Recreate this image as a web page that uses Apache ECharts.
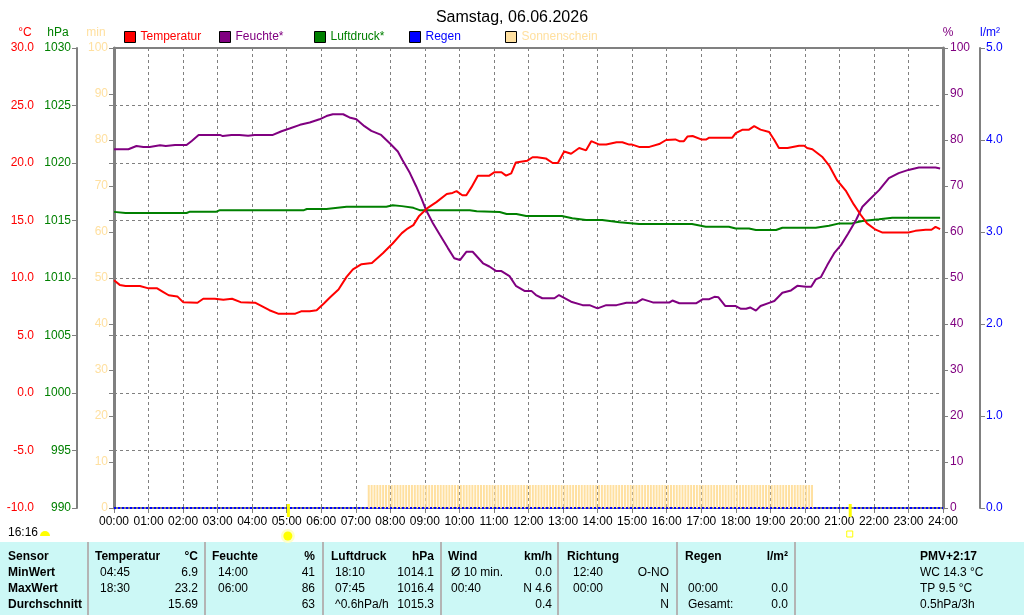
<!DOCTYPE html>
<html>
<head>
<meta charset="utf-8">
<title>Samstag, 06.06.2026</title>
<script src="https://cdn.jsdelivr.net/npm/echarts@6/dist/echarts.min.js"></script>
<style>
  html, body { margin: 0; padding: 0; background: #fff; }
  #chart { width: 1024px; height: 615px; }
</style>
</head>
<body>
<div id="chart"></div>
<script>
const chartTitle = 'Samstag, 06.06.2026';

// Temperatur (°C)
const tempTimes = ['00:00', '00:10', '00:20', '00:45', '01:00', '01:15', '01:25', '01:35', '01:50', '02:00',
  '02:25', '02:35', '02:55', '03:10', '03:25', '03:40', '04:05', '04:15', '04:30', '04:45',
  '05:15', '05:25', '05:40', '05:52', '06:05', '06:15', '06:30', '06:44', '06:55', '07:10',
  '07:28', '07:47', '08:04', '08:20', '08:30', '08:40', '08:50', '09:05', '09:20', '09:38',
  '09:48', '09:55', '10:05', '10:12', '10:21', '10:32', '10:52', '11:01', '11:13', '11:21',
  '11:30', '11:38', '11:58', '12:07', '12:15', '12:30', '12:42', '12:51', '13:02', '13:14',
  '13:28', '13:40', '13:49', '14:03', '14:15', '14:33', '14:43', '14:55', '15:00', '15:12',
  '15:30', '15:47', '15:59', '16:15', '16:22', '16:30', '16:36', '16:45', '17:00', '17:09',
  '17:14', '17:54', '18:00', '18:12', '18:23', '18:32', '18:43', '18:58', '19:07', '19:15',
  '19:30', '19:50', '19:59', '20:04', '20:13', '20:30', '20:42', '20:56', '21:11', '21:25',
  '21:37', '21:48', '22:03', '22:15', '23:00', '23:12', '23:30', '23:40', '23:47', '23:55'];
const tempValues = [9.8, 9.4, 9.3, 9.3, 9.1, 9.1, 8.8, 8.5, 8.4, 7.9,
  7.85, 8.2, 8.2, 8.1, 8.2, 7.9, 7.85, 7.6, 7.2, 6.9,
  6.9, 7.1, 7.1, 7.2, 7.8, 8.3, 9.0, 10.1, 10.75, 11.2,
  11.3, 12.15, 13.0, 13.9, 14.3, 14.6, 15.4, 16.1, 16.6, 17.3,
  17.4, 17.55, 17.2, 17.2, 17.9, 18.9, 18.9, 19.2, 19.2, 18.9,
  19.1, 20.05, 20.2, 20.5, 20.5, 20.4, 20.0, 20.0, 21.0, 20.8,
  21.3, 21.1, 21.9, 21.6, 21.6, 21.8, 21.8, 21.6, 21.6, 21.4,
  21.4, 21.65, 22.0, 22.05, 21.9, 21.9, 22.3, 22.35, 22.05, 22.05,
  22.2, 22.2, 22.6, 22.9, 22.9, 23.2, 22.9, 22.7, 22.0, 21.3,
  21.3, 21.5, 21.5, 21.3, 21.2, 20.55, 19.8, 18.5, 17.6, 16.4,
  15.5, 14.75, 14.2, 13.95, 13.95, 14.1, 14.2, 14.2, 14.45, 14.25];

// Feuchte (%)
const humTimes = ['00:00', '00:25', '00:39', '00:51', '01:02', '01:20', '01:30', '01:46', '02:06', '02:15',
  '02:27', '03:04', '03:09', '03:24', '03:38', '03:53', '04:04', '04:36', '04:51', '05:05',
  '05:23', '05:40', '05:57', '06:09', '06:20', '06:38', '06:49', '07:01', '07:15', '07:27',
  '07:44', '07:59', '08:13', '08:21', '08:34', '08:45', '08:54', '09:02', '09:14', '09:26',
  '09:40', '09:51', '10:01', '10:12', '10:23', '10:41', '10:52', '11:04', '11:13', '11:27',
  '11:38', '11:53', '12:05', '12:13', '12:24', '12:45', '12:53', '13:14', '13:34', '13:46',
  '14:00', '14:15', '14:33', '14:50', '15:07', '15:18', '15:36', '16:05', '16:10', '16:22',
  '16:51', '17:03', '17:14', '17:23', '17:30', '17:42', '18:00', '18:09', '18:18', '18:25',
  '18:35', '18:43', '18:58', '19:07', '19:21', '19:36', '19:47', '20:02', '20:11', '20:19',
  '20:28', '20:39', '20:51', '21:03', '21:15', '21:29', '21:40', '21:52', '22:09', '22:26',
  '22:43', '23:00', '23:18', '23:47', '23:55'];
const humValues = [78.0, 78.0, 78.7, 78.5, 78.5, 78.85, 78.7, 78.9, 78.9, 79.8,
  81.1, 81.1, 80.85, 81.1, 81.1, 80.9, 81.1, 81.1, 81.9, 82.5,
  83.3, 83.8, 84.5, 85.2, 85.6, 85.6, 84.9, 84.5, 83.0, 82.0,
  81.1, 79.3, 77.5, 75.65, 72.8, 69.9, 67.3, 64.8, 61.9, 59.4,
  56.5, 54.3, 53.9, 55.7, 55.7, 53.2, 52.5, 51.5, 51.5, 50.4,
  48.3, 47.2, 47.2, 46.3, 45.6, 45.6, 46.3, 44.85, 44.1, 44.1,
  43.4, 44.1, 44.1, 44.6, 44.6, 45.4, 44.7, 44.7, 45.1, 44.5,
  44.5, 45.4, 45.4, 45.9, 45.8, 43.9, 43.9, 43.3, 43.3, 43.6,
  42.9, 43.9, 44.6, 45.0, 46.8, 47.3, 48.3, 48.1, 48.1, 49.7,
  50.2, 52.8, 55.4, 57.2, 59.6, 62.6, 65.5, 67.0, 69.1, 71.7,
  72.8, 73.5, 74.0, 74.0, 73.8];

// Luftdruck (hPa)
const pressTimes = ['00:00', '00:20', '02:06', '02:12', '02:58', '03:04', '05:30', '05:35', '06:09', '06:44',
  '07:53', '08:04', '08:20', '08:40', '08:51', '10:18', '10:30', '11:10', '11:22', '11:39',
  '11:56', '12:58', '13:16', '13:40', '14:08', '14:38', '15:12', '16:44', '17:08', '17:48',
  '18:00', '18:23', '18:35', '19:10', '19:21', '20:19', '20:42', '21:00', '21:22', '21:40',
  '22:09', '22:32', '23:55'];
const pressValues = [1015.75, 1015.65, 1015.65, 1015.77, 1015.77, 1015.9, 1015.9, 1016.0, 1016.0, 1016.2,
  1016.2, 1016.32, 1016.25, 1016.1, 1015.9, 1015.9, 1015.8, 1015.74, 1015.57, 1015.57,
  1015.4, 1015.4, 1015.2, 1015.04, 1015.04, 1014.84, 1014.7, 1014.7, 1014.46, 1014.46,
  1014.3, 1014.3, 1014.17, 1014.17, 1014.37, 1014.37, 1014.55, 1014.75, 1014.75, 1014.96,
  1015.1, 1015.24, 1015.24];

// Regen (l/m²)
const rainTimes = ['00:00', '24:00'];
const rainValues = [0.0, 0.0];

// Sonnenschein: minutes per 5-minute slot, one row per hour (00 .. 23)
const sunSlotMinutes = [
  [0, 0, 0, 0, 0, 0, 0, 0, 0, 0, 0, 0],
  [0, 0, 0, 0, 0, 0, 0, 0, 0, 0, 0, 0],
  [0, 0, 0, 0, 0, 0, 0, 0, 0, 0, 0, 0],
  [0, 0, 0, 0, 0, 0, 0, 0, 0, 0, 0, 0],
  [0, 0, 0, 0, 0, 0, 0, 0, 0, 0, 0, 0],
  [0, 0, 0, 0, 0, 0, 0, 0, 0, 0, 0, 0],
  [0, 0, 0, 0, 0, 0, 0, 0, 0, 0, 0, 0],
  [0, 0, 0, 0, 5, 5, 5, 5, 5, 5, 5, 5],
  [5, 5, 5, 5, 5, 5, 5, 5, 5, 5, 5, 5],
  [5, 5, 5, 5, 5, 5, 5, 5, 5, 5, 5, 5],
  [5, 5, 5, 5, 5, 5, 5, 5, 5, 5, 5, 5],
  [5, 5, 5, 5, 5, 5, 5, 5, 5, 5, 5, 5],
  [5, 5, 5, 5, 5, 5, 5, 5, 5, 5, 5, 5],
  [5, 5, 5, 5, 5, 5, 5, 5, 5, 5, 5, 5],
  [5, 5, 5, 5, 5, 5, 5, 5, 5, 5, 5, 5],
  [5, 5, 5, 5, 5, 5, 5, 5, 5, 5, 5, 5],
  [5, 5, 5, 5, 5, 5, 5, 5, 5, 5, 5, 5],
  [5, 5, 5, 5, 5, 5, 5, 5, 5, 5, 5, 5],
  [5, 5, 5, 5, 5, 5, 5, 5, 5, 5, 5, 5],
  [5, 5, 5, 5, 5, 5, 5, 5, 5, 5, 5, 5],
  [5, 5, 5, 0, 0, 0, 0, 0, 0, 0, 0, 0],
  [0, 0, 0, 0, 0, 0, 0, 0, 0, 0, 0, 0],
  [0, 0, 0, 0, 0, 0, 0, 0, 0, 0, 0, 0],
  [0, 0, 0, 0, 0, 0, 0, 0, 0, 0, 0, 0]];

// Sonnenaufgang / -untergang and Tageslänge
const sunRise = '05:02';
const sunSet = '21:18';
const dayLength = '16:16';

// Statistik-Tabelle
const tableRows = [
  ['Sensor', 'Temperatur', '°C', 'Feuchte', '%', 'Luftdruck', 'hPa', 'Wind', 'km/h', 'Richtung', '', 'Regen', 'l/m²', 'PMV+2:17'],
  ['MinWert', '04:45', '6.9', '14:00', '41', '18:10', '1014.1', 'Ø 10 min.', '0.0', '12:40', 'O-NO', '', '', 'WC 14.3 °C'],
  ['MaxWert', '18:30', '23.2', '06:00', '86', '07:45', '1016.4', '00:40', 'N 4.6', '00:00', 'N', '00:00', '0.0', 'TP 9.5 °C'],
  ['Durchschnitt', '', '15.69', '', '63', '^0.6hPa/h', '1015.3', '', '0.4', '', 'N', 'Gesamt:', '0.0', '0.5hPa/3h'],
];

const FONT = "'Liberation Sans', Arial, sans-serif";
const FS = 12;
const C_TEMP = '#ff0000';
const C_HUM = '#800080';
const C_PRESS = '#008000';
const C_RAIN = '#0000ff';
const C_SUN = '#ffe0a0';
const C_AXIS = '#808080';

function toMin(t) {
  const p = t.split(':');
  return (+p[0]) * 60 + (+p[1]);
}
function pairs(times, values) {
  return times.map((t, i) => [toMin(t), values[i]]);
}

const sunData = [];
sunSlotMinutes.forEach((row, h) => {
  row.forEach((v, s) => {
    if (v > 0) sunData.push([h * 60 + s * 5 + 2.5, v]);
  });
});

// table layout: per column header x, body x, align
const tableCols = [
  [8, 8, 'left'], [95, 100, 'left'], [198, 198, 'right'], [212, 218, 'left'], [315, 315, 'right'],
  [331, 335, 'left'], [434, 434, 'right'], [448, 451, 'left'], [552, 552, 'right'], [567, 573, 'left'],
  [669, 669, 'right'], [685, 688, 'left'], [788, 788, 'right'], [920, 920, 'left']];
const tableRowY = [557, 573, 589, 605];
const tableSeparators = [88, 205, 323, 441, 558, 677, 795];

function yAxis(opt) {
  return Object.assign({
    type: 'value',
    axisLine: { show: true, lineStyle: { color: C_AXIS, width: 2 } },
    axisTick: { show: true, length: 5, lineStyle: { color: C_AXIS } },
    splitLine: { show: false },
  }, opt);
}

const chart = echarts.init(document.getElementById('chart'), null, { renderer: 'canvas' });

const legends = [
  ['Temperatur', C_TEMP, 124], ['Feuchte*', C_HUM, 219], ['Luftdruck*', C_PRESS, 314],
  ['Regen', C_RAIN, 409], ['Sonnenschein', C_SUN, 505]].map(([name, color, x]) => ({
  data: [name],
  left: x,
  top: 31,
  padding: 0,
  icon: 'rect',
  itemWidth: 11,
  itemHeight: 11,
  itemGap: 5,
  selectedMode: false,
  itemStyle: { borderColor: '#000', borderWidth: 1 },
  textStyle: { color, fontSize: FS, fontFamily: FONT },
}));

const axisNames = [['°C', C_TEMP, 25], ['hPa', C_PRESS, 58], ['min', C_SUN, 96], ['%', C_HUM, 948], ['l/m²', C_RAIN, 990]];

const graphics = [];
axisNames.forEach(([t, c, x]) => {
  graphics.push({ type: 'text', x, y: 33, style: { text: t, fill: c, font: FS + 'px ' + FONT, textAlign: 'center', textVerticalAlign: 'middle' } });
});
graphics.push({ type: 'rect', shape: { x: 0, y: 542, width: 1024, height: 73 }, style: { fill: '#ccf8f6' }, silent: true });
tableSeparators.forEach((x) => {
  graphics.push({ type: 'rect', shape: { x: x - 1, y: 542, width: 2, height: 73 }, style: { fill: '#b4b4b4' } });
});
tableRows.forEach((row, r) => {
  row.forEach((txt, c) => {
    if (!txt) return;
    const col = tableCols[c];
    const bold = r === 0 || c === 0;
    graphics.push({
      type: 'text',
      x: r === 0 ? col[0] : col[1],
      y: tableRowY[r],
      style: {
        text: txt,
        fill: '#000',
        font: (bold ? 'bold ' : '') + FS + 'px ' + FONT,
        textAlign: col[2],
        textVerticalAlign: 'middle',
      },
    });
  });
});
graphics.push({ type: 'text', x: 8, y: 533, style: { text: dayLength, fill: '#000', font: FS + 'px ' + FONT, textVerticalAlign: 'middle' } });
graphics.push({ type: 'sector', shape: { cx: 45, cy: 536, r: 5, startAngle: Math.PI, endAngle: Math.PI * 2 }, style: { fill: '#ffff00' } });

chart.setOption({
  animation: false,
  textStyle: { fontFamily: FONT },
  title: {
    text: chartTitle,
    left: 'center',
    top: 5,
    textStyle: { color: '#000', fontSize: 16, fontWeight: 'normal', fontFamily: FONT },
  },
  legend: legends,
  grid: {
    left: 114, right: 81, top: 48, bottom: 107,
    show: true, borderColor: C_AXIS, borderWidth: 2,
    outerBoundsMode: 'none',
  },
  xAxis: {
    type: 'value',
    min: 0,
    max: 1440,
    interval: 60,
    axisLine: { show: true, onZero: false, lineStyle: { color: C_AXIS, width: 1 } },
    axisTick: { show: true, length: 5, lineStyle: { color: C_AXIS, width: 1 } },
    axisLabel: {
      color: '#000', fontSize: FS, margin: 8,
      formatter: (v) => (v / 60 < 10 ? '0' : '') + (v / 60) + ':00',
    },
    splitLine: { show: true, lineStyle: { color: C_AXIS, type: [3, 3], width: 1 } },
  },
  yAxis: [
    yAxis({
      min: -10, max: 30, interval: 5, position: 'left', offset: 74,
      axisLabel: { color: C_TEMP, fontSize: FS, margin: 6, formatter: (v) => v.toFixed(1) },
      splitLine: { show: true, lineStyle: { color: C_AXIS, type: [3, 3], width: 1 } },
    }),
    yAxis({
      min: 990, max: 1030, interval: 5, position: 'left', offset: 37,
      axisLabel: { color: C_PRESS, fontSize: FS, margin: 6, formatter: (v) => String(v) },
    }),
    yAxis({
      min: 0, max: 100, interval: 10, position: 'left', offset: 0,
      axisLine: { show: true, lineStyle: { color: C_AXIS, width: 3 } },
      axisLabel: { color: C_SUN, fontSize: FS, margin: 6 },
    }),
    yAxis({
      min: 0, max: 100, interval: 10, position: 'right', offset: 0,
      axisLine: { show: true, lineStyle: { color: C_AXIS, width: 3 } },
      axisLabel: { color: C_HUM, fontSize: FS, margin: 7 },
    }),
    yAxis({
      min: 0, max: 5, interval: 1, position: 'right', offset: 37,
      axisLabel: { color: C_RAIN, fontSize: FS, margin: 6, formatter: (v) => v.toFixed(1) },
    }),
  ],
  series: [
    {
      name: 'Sonnenschein', type: 'bar', yAxisIndex: 2, barWidth: 2,
      itemStyle: { color: C_SUN }, data: sunData, z: 1,
    },
    {
      name: 'Regen', type: 'line', yAxisIndex: 4, symbol: 'none',
      itemStyle: { color: C_RAIN }, lineStyle: { color: C_RAIN, width: 2, type: [2, 2] },
      data: pairs(rainTimes, rainValues), z: 3,
    },
    {
      name: 'Luftdruck*', type: 'line', yAxisIndex: 1, symbol: 'none',
      itemStyle: { color: C_PRESS }, lineStyle: { color: C_PRESS, width: 2 },
      data: pairs(pressTimes, pressValues), z: 4,
    },
    {
      name: 'Feuchte*', type: 'line', yAxisIndex: 3, symbol: 'none',
      itemStyle: { color: C_HUM }, lineStyle: { color: C_HUM, width: 2 },
      data: pairs(humTimes, humValues), z: 5,
    },
    {
      name: 'Temperatur', type: 'line', yAxisIndex: 0, symbol: 'none',
      itemStyle: { color: C_TEMP }, lineStyle: { color: C_TEMP, width: 2 },
      data: pairs(tempTimes, tempValues), z: 6,
    },
  ],
  graphic: graphics,
});

// sunrise / sunset markers placed through the x axis scale
const xr = chart.convertToPixel({ xAxisIndex: 0 }, toMin(sunRise));
const xs = chart.convertToPixel({ xAxisIndex: 0 }, toMin(sunSet));
chart.setOption({
  graphic: graphics.concat([
    { type: 'rect', shape: { x: xr - 1, y: 504, width: 3, height: 13 }, style: { fill: '#ffff00' }, z: 10 },
    { type: 'circle', shape: { cx: xr, cy: 536, r: 7 }, style: { fill: '#ffffc8' } },
    { type: 'circle', shape: { cx: xr, cy: 536, r: 4.5 }, style: { fill: '#ffff00' } },
    { type: 'rect', shape: { x: xs - 1, y: 504, width: 3, height: 13 }, style: { fill: '#ffff00' }, z: 10 },
    { type: 'rect', shape: { x: xs - 3, y: 531, width: 6, height: 6 }, style: { fill: 'none', stroke: '#ffff00', lineWidth: 1 } },
  ]),
}, { replaceMerge: ['graphic'] });
</script>
</body>
</html>
